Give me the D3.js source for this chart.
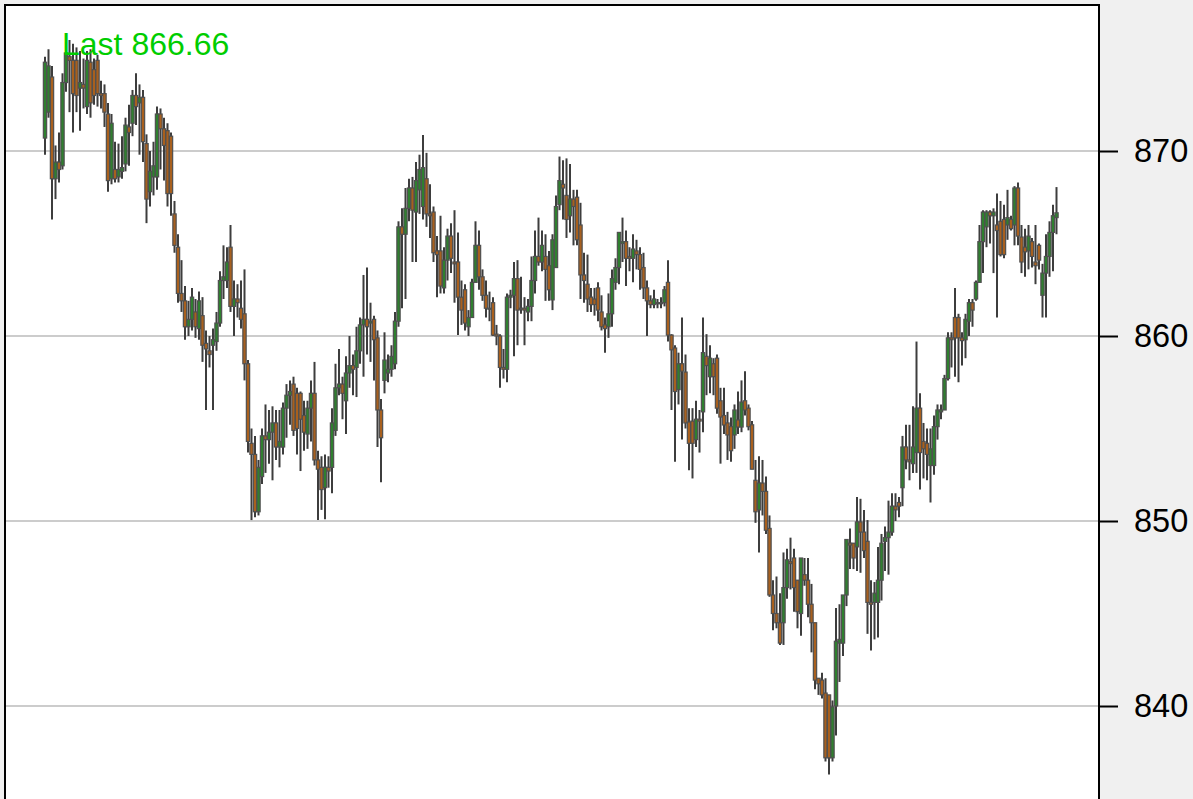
<!DOCTYPE html>
<html>
<head>
<meta charset="utf-8">
<script src="https://cdn.jsdelivr.net/npm/d3@7"></script>
<style>
  body { margin: 0; background: #f0f0f0; }
  svg { display: block; font-family: "Liberation Sans", Arial, sans-serif; }
</style>
</head>
<body>
<svg id="chart" width="1193" height="799"></svg>
<script>

/*********************/
/*** INIT VARIABLE ***/
/*********************/

// one value per bar
let opens = [
    870.7, 872.1, 874.0, 868.5, 869.4, 869.2, 873.7, 875.1, 874.9, 874.9, 873.4, 873.6, 872.4, 874.8, 874.4, 874.9, 873.1, 873.1, 872.0, 868.5,
    869.0, 868.6, 868.9, 869.3, 871.3, 871.5, 873.0, 872.6, 872.9, 870.4, 867.8, 868.6, 868.6, 872.0, 871.2, 871.1, 870.8, 866.6, 864.8, 862.3,
    861.9, 860.5, 860.9, 861.3, 860.4, 861.1, 859.6, 859.2, 859.5, 859.7, 860.7, 863.0, 863.0, 864.8, 861.6, 862.0, 861.5, 861.2, 858.5, 854.2,
    853.6, 850.5, 852.4, 854.6, 854.4, 854.8, 855.3, 854.0, 854.0, 856.1, 856.8, 857.4, 856.9, 856.9, 855.7, 854.7, 856.1, 856.9, 853.3, 852.9,
    851.8, 852.9, 852.9, 854.9, 857.2, 857.4, 856.5, 858.0, 858.4, 858.3, 859.2, 860.6, 860.9, 860.7, 860.9, 859.9, 856.0, 857.6, 858.0, 858.2,
    858.5, 860.8, 865.9, 865.5, 866.9, 868.0, 866.7, 867.9, 867.0, 868.5, 866.6, 866.7, 864.6, 864.6, 862.6, 864.1, 865.4, 864.0, 864.0, 862.1,
    862.5, 860.5, 861.0, 862.9, 864.9, 863.2, 862.2, 861.5, 861.8, 860.1, 860.0, 858.3, 858.2, 862.1, 862.2, 863.1, 861.5, 861.5, 861.3, 861.6,
    863.0, 864.3, 864.0, 864.3, 863.8, 861.95, 863.7, 867.1, 868.2, 867.6, 866.5, 867.4, 867.5, 866.0, 863.3, 862.8, 862.1, 862.0, 862.6, 861.3,
    860.6, 860.5, 861.2, 862.9, 863.7, 865.0, 865.1, 864.3, 864.2, 864.6, 864.4, 863.7, 862.6, 861.9, 861.7, 861.8, 861.8, 861.8, 862.9, 860.05,
    859.35, 857.1, 858.5, 858.05, 855.35, 855.4, 854.4, 855.5, 855.9, 858.9, 857.8, 858.5, 858.8, 856.5, 855.7, 855.3, 855.1, 854.65, 855.46, 855.08,
    856.5, 856.1, 855.2, 852.2, 850.6, 852.05, 851.6, 849.6, 846.0, 845.0, 844.5, 844.5, 846.4, 847.8, 848.0, 846.8, 845.0, 847.1, 846.8, 845.5,
    844.5, 841.5, 841.4, 840.7, 840.6, 837.2, 840.0, 843.4, 843.4, 846.0, 848.8, 848.8, 848.6, 849.95, 849.4, 848.9, 845.6, 845.6, 845.6, 846.8,
    848.9, 849.1, 849.4, 850.8, 851.0, 851.8, 854.0, 853.3, 853.1, 853.7, 856.1, 854.3, 854.2, 853.0, 853.0, 855.1, 855.9, 856.0, 857.7, 859.9,
    861.0, 861.0, 859.9, 859.8, 860.8, 861.8, 862.0, 862.9, 865.1, 865.9, 866.7, 866.5, 866.0, 866.2, 866.3, 866.0, 866.3, 866.0, 868.0, 865.35,
    864.8, 864.6, 865.1, 864.0, 864.9, 862.2, 863.4, 864.3, 865.6, 866.4
];
let highs = [
    875.1, 875.5, 874.6, 870.3, 871.0, 874.2, 875.9, 876.0, 875.8, 875.6, 875.4, 875.0, 875.4, 875.5, 875.0, 875.2, 873.8, 873.6, 872.6, 872.0,
    870.5, 870.4, 870.8, 871.8, 872.5, 873.3, 874.2, 873.6, 873.3, 870.9, 870.0, 870.5, 872.4, 872.3, 871.8, 871.5, 871.0, 867.3, 865.5, 864.1,
    862.7, 861.9, 862.6, 862.0, 862.4, 862.1, 860.3, 860.0, 860.4, 861.3, 863.5, 864.9, 864.8, 866.0, 863.0, 862.8, 863.0, 863.6, 858.7, 855.0,
    854.6, 853.3, 855.0, 856.3, 856.0, 856.2, 856.0, 856.0, 856.4, 857.4, 857.6, 857.8, 857.2, 857.0, 856.5, 856.5, 857.6, 858.6, 853.8, 853.5,
    853.6, 853.5, 856.1, 858.5, 859.3, 857.8, 858.9, 860.0, 859.0, 860.5, 861.0, 863.3, 863.7, 861.8, 861.1, 860.3, 856.6, 860.2, 859.0, 859.5,
    861.3, 866.2, 866.9, 868.0, 868.5, 868.6, 869.4, 869.8, 870.86, 869.9, 868.2, 867.0, 865.4, 866.5, 864.8, 865.8, 866.1, 866.8, 865.6, 863.0,
    862.8, 861.4, 863.1, 866.2, 865.7, 863.6, 863.0, 862.4, 862.1, 860.6, 860.1, 859.3, 862.3, 862.5, 864.0, 864.1, 863.2, 862.1, 862.0, 864.3,
    865.7, 866.4, 865.7, 865.5, 864.6, 865.5, 867.6, 869.7, 869.5, 869.6, 869.3, 867.9, 867.9, 867.2, 864.5, 864.4, 862.6, 862.6, 862.9, 862.2,
    861.0, 862.3, 863.6, 864.2, 865.6, 866.4, 865.7, 864.8, 865.5, 865.2, 864.8, 864.5, 863.0, 862.2, 862.5, 862.0, 862.1, 862.7, 864.1, 860.1,
    859.5, 859.1, 861.0, 859.0, 856.1, 856.1, 856.5, 856.0, 861.0, 860.1, 859.5, 858.8, 859.0, 857.2, 857.2, 855.9, 855.6, 856.3, 857.0, 857.6,
    858.1, 856.3, 855.4, 853.3, 853.5, 853.3, 852.4, 850.3, 846.8, 847.0, 846.1, 848.3, 848.5, 849.1, 848.5, 846.8, 848.0, 848.0, 848.0, 846.6,
    844.5, 841.5, 841.8, 841.5, 840.6, 840.3, 845.3, 845.5, 846.0, 849.0, 849.6, 848.8, 851.3, 851.2, 850.6, 850.05, 846.8, 846.7, 848.6, 849.3,
    849.7, 851.1, 851.5, 851.5, 851.3, 854.6, 855.2, 855.2, 856.2, 859.7, 856.9, 855.3, 855.0, 855.0, 855.7, 856.3, 856.3, 857.9, 860.2, 860.2,
    862.6, 861.2, 860.2, 861.2, 862.0, 862.0, 863.0, 866.0, 866.8, 866.8, 866.8, 866.9, 867.7, 867.3, 867.1, 867.9, 866.5, 868.1, 868.3, 866.0,
    865.8, 866.0, 865.3, 866.0, 865.0, 863.9, 865.5, 866.2, 867.1, 868.05
];
let lows = [
    869.8, 871.8, 866.3, 867.4, 868.3, 869.0, 873.2, 872.1, 871.0, 872.1, 871.1, 872.3, 872.0, 871.8, 872.5, 872.4, 872.3, 871.3, 867.8, 868.2,
    868.3, 868.3, 868.5, 868.9, 869.2, 870.8, 871.4, 869.8, 869.4, 866.1, 867.0, 867.6, 867.9, 869.0, 868.4, 867.0, 866.5, 864.5, 861.8, 861.3,
    859.8, 860.0, 860.3, 859.9, 859.8, 858.6, 856.0, 858.3, 856.0, 859.2, 860.5, 862.0, 862.6, 861.3, 860.0, 861.0, 860.4, 857.6, 853.7, 850.05,
    850.2, 850.3, 852.0, 852.6, 853.1, 852.2, 853.3, 852.9, 853.6, 854.5, 855.2, 854.6, 853.6, 852.7, 853.8, 853.9, 854.3, 853.0, 850.05, 850.6,
    850.1, 851.8, 851.5, 854.6, 856.8, 855.5, 854.7, 857.2, 856.8, 856.7, 858.5, 857.8, 859.0, 858.6, 857.6, 854.0, 852.1, 856.9, 857.5, 857.8,
    858.2, 860.5, 861.5, 862.0, 866.2, 864.0, 864.0, 866.6, 866.3, 865.9, 865.3, 864.0, 862.1, 862.3, 862.3, 863.0, 863.4, 861.8, 860.05, 860.6,
    860.3, 860.0, 861.0, 862.9, 862.5, 861.9, 861.0, 860.8, 860.0, 859.5, 857.2, 857.7, 857.5, 861.5, 858.9, 859.5, 861.2, 859.5, 860.8, 860.8,
    862.3, 863.8, 863.5, 861.9, 861.9, 861.4, 863.7, 866.8, 866.3, 865.3, 865.6, 864.9, 864.9, 862.0, 861.8, 861.3, 861.3, 861.1, 860.8, 860.3,
    859.1, 859.9, 860.5, 862.5, 862.8, 864.0, 862.7, 863.5, 862.9, 863.6, 862.5, 862.0, 860.0, 861.5, 861.5, 861.5, 861.5, 861.6, 859.7, 856.0,
    853.2, 856.3, 854.4, 855.0, 852.75, 852.3, 854.0, 853.7, 854.8, 856.8, 856.9, 856.8, 855.8, 853.1, 854.7, 853.3, 853.2, 853.9, 854.7, 854.8,
    855.7, 854.9, 852.8, 849.9, 848.3, 850.3, 849.3, 845.9, 844.1, 844.2, 843.3, 843.3, 845.8, 846.3, 845.1, 844.2, 843.8, 846.5, 844.8, 842.9,
    840.9, 840.6, 840.4, 837.0, 836.3, 837.0, 838.4, 841.3, 842.7, 845.4, 847.4, 847.4, 847.3, 847.2, 848.0, 843.9, 843.0, 843.6, 843.7, 845.7,
    847.3, 847.1, 849.2, 850.0, 850.2, 850.8, 852.8, 852.2, 852.6, 852.6, 851.7, 852.3, 852.2, 851.0, 852.5, 854.4, 855.5, 856.0, 857.6, 858.3,
    857.8, 857.5, 858.4, 858.8, 860.0, 860.5, 861.9, 862.9, 863.4, 864.8, 865.0, 863.4, 861.0, 864.3, 864.2, 865.2, 865.7, 864.9, 864.9, 863.4,
    863.2, 863.6, 863.7, 862.8, 863.6, 861.0, 861.0, 863.2, 863.5, 865.5
];
let closes = [
    874.8, 874.6, 868.5, 869.4, 869.0, 873.7, 875.3, 874.9, 873.1, 873.0, 873.7, 873.4, 874.9, 872.6, 873.0, 873.1, 873.0, 872.1, 868.4, 871.5,
    868.5, 869.0, 869.1, 871.4, 871.0, 873.0, 872.4, 872.9, 870.5, 867.4, 868.9, 869.2, 872.0, 871.2, 870.3, 867.7, 867.7, 864.9, 862.3, 861.9,
    860.5, 860.9, 862.1, 860.5, 861.9, 859.5, 859.3, 859.0, 859.8, 860.7, 863.0, 863.2, 864.0, 861.6, 862.0, 861.8, 860.9, 858.5, 854.3, 853.6,
    850.5, 852.9, 854.6, 854.4, 854.8, 855.3, 854.0, 854.3, 856.1, 856.8, 857.0, 854.9, 855.0, 855.5, 854.8, 856.1, 856.9, 853.3, 852.8, 851.7,
    852.9, 852.7, 855.3, 857.2, 857.4, 856.9, 858.0, 858.4, 858.2, 859.2, 860.6, 860.9, 860.5, 860.8, 859.8, 856.0, 854.5, 858.7, 858.2, 858.9,
    860.8, 865.9, 865.5, 866.9, 868.0, 866.8, 868.4, 869.0, 869.1, 866.6, 866.5, 864.5, 864.4, 862.7, 864.1, 865.4, 864.2, 863.9, 862.1, 861.4,
    860.7, 861.0, 862.9, 864.9, 863.2, 862.2, 861.5, 861.5, 860.05, 860.0, 858.3, 858.2, 862.1, 862.2, 863.1, 861.4, 861.5, 861.4, 861.6, 863.0,
    864.3, 864.0, 864.9, 863.6, 862.5, 865.2, 867.0, 868.4, 868.0, 866.3, 867.4, 867.0, 865.2, 863.3, 863.0, 862.0, 861.7, 861.7, 861.4, 860.5,
    860.4, 861.2, 863.1, 863.7, 865.6, 865.1, 864.2, 864.2, 864.7, 864.4, 863.6, 862.6, 861.9, 861.7, 862.0, 861.8, 861.8, 862.5, 860.05, 859.25,
    857.0, 858.5, 858.1, 855.3, 854.2, 854.2, 855.5, 855.4, 859.1, 858.4, 858.8, 857.8, 856.1, 855.62, 855.19, 854.65, 853.8, 856.0, 855.08, 856.43,
    856.0, 855.1, 852.8, 850.5, 852.05, 851.6, 849.5, 846.0, 845.0, 844.5, 843.4, 846.4, 847.9, 847.7, 846.4, 845.1, 848.0, 846.8, 845.5, 844.5,
    841.4, 841.2, 840.6, 837.2, 837.2, 839.95, 843.5, 843.6, 846.0, 849.0, 848.7, 848.0, 849.95, 849.4, 848.4, 845.6, 845.5, 846.1, 846.8, 848.8,
    849.1, 849.4, 850.8, 850.6, 850.8, 854.0, 853.3, 853.2, 854.0, 856.1, 853.7, 853.9, 853.6, 853.9, 855.1, 856.0, 856.0, 857.7, 859.9, 859.8,
    859.9, 859.9, 859.75, 860.9, 861.8, 861.4, 862.9, 865.1, 866.7, 866.7, 866.5, 866.7, 865.7, 864.4, 864.4, 866.4, 865.8, 868.0, 865.4, 864.0,
    864.55, 865.4, 864.3, 863.8, 864.1, 863.4, 864.3, 865.6, 866.5, 866.66
];

let y_ticks = [840, 850, 860, 870];
let last_label = "Last " + closes[closes.length - 1].toFixed(2);

let svg = d3.select('#chart');

let plot = {left: 5, top: 5, right: 1099, bottom: 900},
    first_bar = 45,
    last_bar = 1056.5,
    body_width = 3.3;

let x = d3.scaleLinear().domain([0, closes.length - 1]).range([first_bar, last_bar]),
    y = d3.scaleLinear().domain([840, 870]).range([706, 151]);

let bars = closes.map((c, i) => ({i: i, o: opens[i], h: highs[i], l: lows[i], c: c}));

/********************************/
/*** DECLARE HELPER FUNCTIONS ***/
/********************************/

function draw_frame() {
    svg.append("rect")
        .attr("x", plot.left)
        .attr("y", plot.top)
        .attr("width", plot.right - plot.left)
        .attr("height", plot.bottom - plot.top)
        .attr("fill", "#ffffff");
}

function draw_grid() {
    svg.selectAll("line.grid")
        .data(y_ticks).enter()
        .append("line")
        .classed("grid", true)
        .attr("x1", plot.left)
        .attr("x2", plot.right)
        .attr("y1", (d) => y(d))
        .attr("y2", (d) => y(d))
        .attr("stroke", "#cccccc")
        .attr("stroke-width", 2);
}

function draw_candles() {
    let g = svg.selectAll("g.candle")
        .data(bars).enter()
        .append("g")
        .classed("candle", true);

    g.append("line")
        .attr("x1", (d) => x(d.i))
        .attr("x2", (d) => x(d.i))
        .attr("y1", (d) => y(d.h))
        .attr("y2", (d) => y(d.l))
        .attr("stroke", "#3d3d3d")
        .attr("stroke-width", 2);

    g.append("rect")
        .attr("x", (d) => x(d.i) - body_width / 2)
        .attr("y", (d) => y(Math.max(d.o, d.c)))
        .attr("width", body_width)
        .attr("height", (d) => Math.max(Math.abs(y(d.o) - y(d.c)), 1))
        .attr("fill", (d) => d.c >= d.o ? "#2f7f2f" : "#a8601e")
        .attr("stroke", "#505050")
        .attr("stroke-width", 1.2);
}

function draw_axis() {
    let axis = svg.append("g")
        .attr("transform", "translate(" + plot.right + ",0)")
        .call(d3.axisRight(y).tickValues(y_ticks).tickSize(19).tickPadding(16).tickFormat(d3.format("d")));

    axis.select(".domain").remove();
    axis.selectAll(".tick line").attr("stroke", "#000").attr("stroke-width", 2);
    axis.selectAll(".tick text")
        .attr("fill", "#000")
        .style("font-size", "32.5px")
        .style("font-family", "'Liberation Sans', Arial, sans-serif");
}

function draw_border() {
    svg.append("rect")
        .attr("x", plot.left)
        .attr("y", plot.top)
        .attr("width", plot.right - plot.left)
        .attr("height", plot.bottom - plot.top)
        .attr("fill", "none")
        .attr("stroke", "#000")
        .attr("stroke-width", 2);
}

function draw_last_label() {
    svg.append("text")
        .attr("x", 62)
        .attr("y", 55)
        .attr("fill", "#00cd00")
        .style("font-size", "32px")
        .text(last_label);
}

/*******************/
/*** DRAW CHART ***/
/*******************/

draw_frame();
draw_grid();
draw_candles();
draw_border();
draw_axis();
draw_last_label();

</script>
</body>
</html>
